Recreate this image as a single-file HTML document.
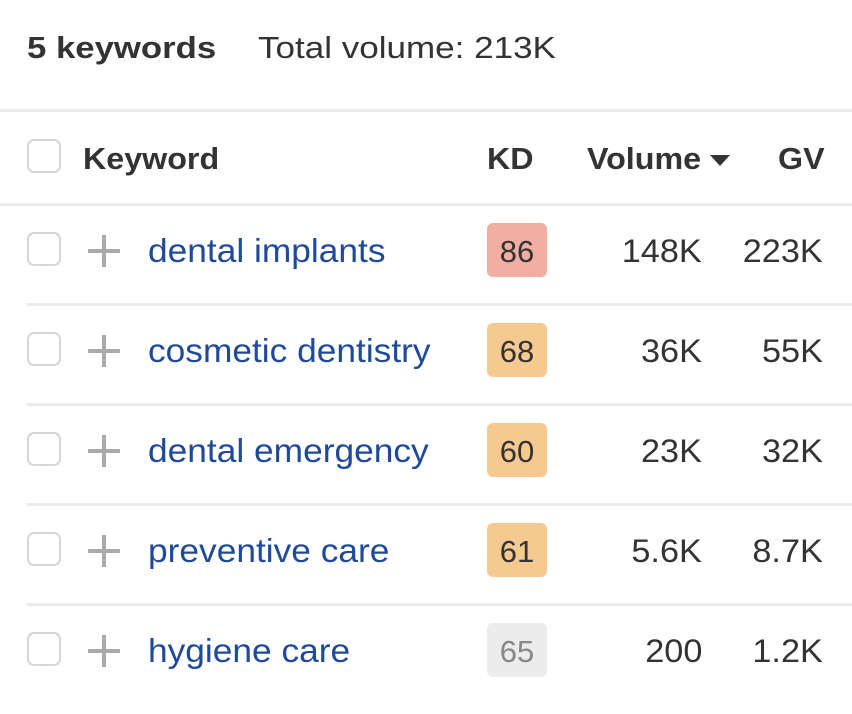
<!DOCTYPE html>
<html><head><style>
body{margin:0;width:852px;height:714px;background:#fff;font-family:"Liberation Sans",Arial,sans-serif;color:#333;position:relative;overflow:hidden}
.a{position:absolute;white-space:nowrap;transform-origin:left center}
.cb{position:absolute;left:27px;width:34px;height:34px;border:2px solid #d6d6d6;border-radius:7px;box-sizing:border-box}
.line{position:absolute;height:3px;background:#ebebeb}
.kw{position:absolute;left:148px;font-size:33px;color:#1f4a9c;transform:scaleX(1.07);transform-origin:left center;white-space:nowrap}
.plus{position:absolute;left:88px;width:32px;height:32px}
.plus:before{content:"";position:absolute;left:14px;top:0;width:4px;height:32px;background:#aaa}
.plus:after{content:"";position:absolute;left:0;top:14px;width:32px;height:4px;background:#aaa}
.kd{position:absolute;left:487px;width:60px;height:54px;border-radius:6px;font-size:31px;line-height:57px;text-align:center;color:#333}
.num{position:absolute;font-size:32px;text-align:right;color:#333;transform:scaleX(1.07);transform-origin:right center;white-space:nowrap}
.h{font-weight:bold;font-size:31px;color:#333;transform:scaleX(1.04)}
</style></head><body>
<div class="a h" style="left:27px;top:30px;transform:scaleX(1.12)">5 keywords</div>
<div class="a" style="left:258px;top:30px;font-size:31px;transform:scaleX(1.13)">Total volume: 213K</div>
<div class="line" style="left:0;top:109px;width:852px"></div>
<div class="cb" style="top:139px"></div>
<div class="a h" style="left:83px;top:141px">Keyword</div>
<div class="a h" style="left:487px;top:141px">KD</div>
<div class="a h" style="left:587px;top:141px">Volume</div>
<div class="a" style="left:710px;top:155px;width:0;height:0;border-left:10px solid transparent;border-right:10px solid transparent;border-top:11px solid #333"></div>
<div class="a h" style="left:778px;top:141px">GV</div>
<div class="line" style="left:0;top:203px;width:852px"></div>

<div class="cb" style="top:232px"></div><div class="plus" style="top:235px"></div>
<div class="kw" style="top:232px">dental implants</div>
<div class="kd" style="top:223px;background:#f2aea3">86</div>
<div class="num" style="right:150px;top:233px">148K</div><div class="num" style="right:29px;top:233px">223K</div>
<div class="line" style="left:27px;top:303px;width:825px"></div>

<div class="cb" style="top:332px"></div><div class="plus" style="top:335px"></div>
<div class="kw" style="top:332px">cosmetic dentistry</div>
<div class="kd" style="top:323px;background:#f5c98f">68</div>
<div class="num" style="right:150px;top:333px">36K</div><div class="num" style="right:29px;top:333px">55K</div>
<div class="line" style="left:27px;top:403px;width:825px"></div>

<div class="cb" style="top:432px"></div><div class="plus" style="top:435px"></div>
<div class="kw" style="top:432px">dental emergency</div>
<div class="kd" style="top:423px;background:#f5c98f">60</div>
<div class="num" style="right:150px;top:433px">23K</div><div class="num" style="right:29px;top:433px">32K</div>
<div class="line" style="left:27px;top:503px;width:825px"></div>

<div class="cb" style="top:532px"></div><div class="plus" style="top:535px"></div>
<div class="kw" style="top:532px">preventive care</div>
<div class="kd" style="top:523px;background:#f5c98f">61</div>
<div class="num" style="right:150px;top:533px">5.6K</div><div class="num" style="right:29px;top:533px">8.7K</div>
<div class="line" style="left:27px;top:603px;width:825px"></div>

<div class="cb" style="top:632px"></div><div class="plus" style="top:635px"></div>
<div class="kw" style="top:632px">hygiene care</div>
<div class="kd" style="top:623px;background:#ececec;color:#888">65</div>
<div class="num" style="right:150px;top:633px">200</div><div class="num" style="right:29px;top:633px">1.2K</div>
</body></html>
